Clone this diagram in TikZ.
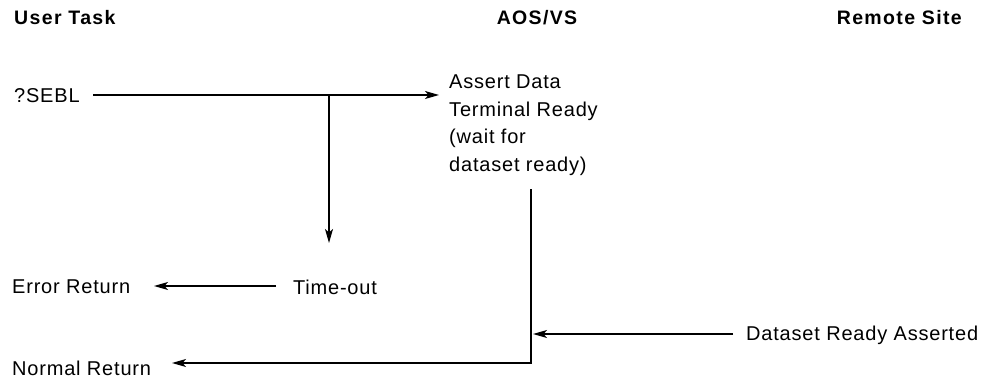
\documentclass[tikz,border=0pt]{standalone}
\usepackage{fontspec}
\setmainfont{Liberation Sans}[LetterSpace=4]
\newfontfamily\hdrfont{Liberation Sans}[LetterSpace=7]
\usetikzlibrary{arrows.meta,calc}
\begin{document}
\begin{tikzpicture}[x=1pt,y=-1pt,
  lbl/.style={inner sep=0pt,font=\fontsize{20}{27.5}\selectfont},
  hdr/.style={inner sep=0pt,font=\fontsize{19.5}{27}\hdrfont\bfseries},
  conn/.style={line width=1.4pt},
  arr/.style={conn,-{Stealth[length=14pt,width=8pt,inset=3.5pt]}}]
\useasboundingbox (0,0) rectangle (988,385);
% headings
\node[hdr,anchor=west] (ut) at (14,18) {User Task};
\node[hdr] (aos) at (537,18) {AOS/VS};
\node[hdr,anchor=east] (rs) at (962,18) {Remote Site};
% texts
\node[lbl,anchor=west] (sebl) at (14,96) {?SEBL};
\node[lbl,anchor=west,align=left] (assert) at (449,125)
  {Assert Data\\Terminal Ready\\(wait for\\dataset ready)};
\node[lbl] (tout) at (335,287) {Time-out};
\node[lbl,anchor=west] (err) at (12,287) {Error Return};
\node[lbl,anchor=west] (dra) at (746,335) {Dataset Ready Asserted};
\node[lbl,anchor=west] (norm) at (12,368) {Normal Return};
% helper coordinates
\coordinate (s0) at (93,95);
\coordinate (s1) at (439,95);
\coordinate (br) at (329,95);
\coordinate (bt) at (329,243);
\coordinate (v1) at (531,189);
\coordinate (v2) at (531,363);
\coordinate (vj) at (533,334);
\coordinate (te) at (276,286);
\coordinate (ee) at (154,286);
\coordinate (de) at (733,334);
\coordinate (ne) at (172,363);
% connectors
\draw[arr] (s0) -- (s1);
\draw[arr] (br) -- (bt);
\draw[arr] (te) -- (ee);
\draw[arr] (de) -- (vj);
\draw[arr] (v1) -- (v2) -- (ne);
\end{tikzpicture}
\end{document}
